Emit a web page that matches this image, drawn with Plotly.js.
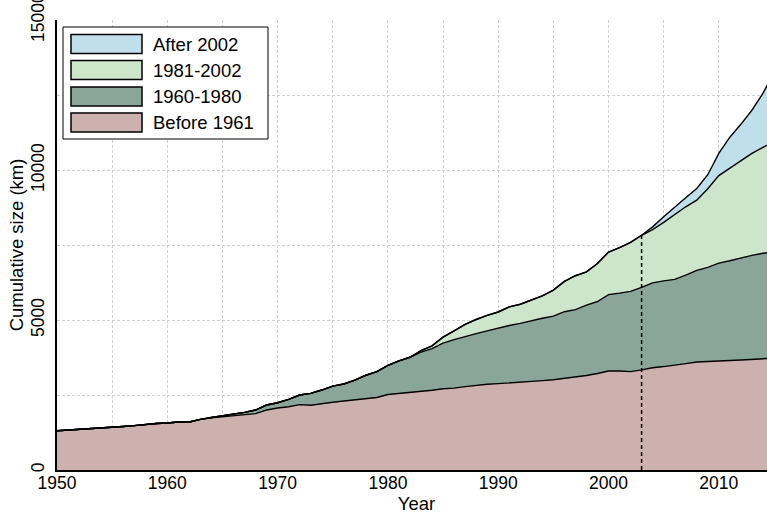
<!DOCTYPE html>
<html>
<head>
<meta charset="utf-8">
<script src="https://cdn.plot.ly/plotly-3.0.1.min.js"></script>
<style>
  html, body { margin: 0; padding: 0; overflow: hidden; background: #fff; }
  #chart { width: 776px; height: 516px; }
</style>
</head>
<body>
<div id="chart"></div>
<script>
// ---- Data ----
const years = [1950,1951,1952,1953,1954,1955,1956,1957,1958,1959,
               1960,1961,1962,1963,1964,1965,1966,1967,1968,1969,
               1970,1971,1972,1973,1974,1975,1976,1977,1978,1979,
               1980,1981,1982,1983,1984,1985,1986,1987,1988,1989,
               1990,1991,1992,1993,1994,1995,1996,1997,1998,1999,
               2000,2001,2002,2003,2004,2005,2006,2007,2008,2009,
               2010,2011,2012,2013,2014,2015];

// cumulative totals (stack tops), km
const cumBefore1961 = [1310,1330,1350,1370,1390,1430,1450,1480,1520,1550,
                       1570,1600,1600,1690,1740,1770,1800,1830,1880,2000,
                       2070,2110,2180,2160,2220,2260,2300,2340,2380,2420,
                       2520,2550,2580,2620,2660,2710,2730,2780,2830,2860,
                       2880,2900,2930,2950,2980,3010,3050,3100,3150,3220,
                       3300,3300,3280,3340,3410,3450,3490,3550,3600,3610,
                       3630,3650,3670,3690,3710,3730];
const cumTo1980 = [1310,1330,1350,1370,1390,1430,1450,1480,1520,1550,
                   1570,1600,1600,1690,1750,1800,1856,1922,2000,2167,
                   2244,2356,2500,2556,2667,2800,2870,3000,3160,3280,
                   3490,3640,3760,3930,4050,4230,4350,4460,4550,4640,
                   4740,4820,4890,4980,5060,5130,5280,5350,5500,5620,
                   5850,5900,5960,6090,6240,6310,6360,6500,6660,6760,
                   6900,6980,7080,7160,7230,7280];
const cumTo2002 = [1310,1330,1350,1370,1390,1430,1450,1480,1520,1550,
                   1570,1600,1600,1690,1750,1800,1856,1922,2000,2167,
                   2244,2356,2500,2556,2667,2800,2870,3000,3160,3280,
                   3490,3640,3760,3980,4140,4430,4640,4860,5020,5160,
                   5270,5440,5530,5660,5810,6000,6290,6480,6610,6890,
                   7270,7420,7590,7830,8020,8260,8530,8780,9000,9380,
                   9820,10060,10310,10560,10760,10950];
const cumTotal = [1310,1330,1350,1370,1390,1430,1450,1480,1520,1550,
                  1570,1600,1600,1690,1750,1800,1856,1922,2000,2167,
                  2244,2356,2500,2556,2667,2800,2870,3000,3160,3280,
                  3490,3640,3760,3980,4140,4430,4640,4860,5020,5160,
                  5270,5440,5530,5660,5810,6000,6290,6480,6610,6890,
                  7270,7420,7590,7830,8110,8450,8780,9080,9390,9850,
                  10560,11100,11530,12000,12560,13250];

const seriesNames = ["Before 1961", "1960-1980", "1981-2002", "After 2002"];
const seriesColors = ["#ccb1ae", "#8aa69a", "#cce5cb", "#bfe0ea"];
const splitYear = 2003;

const xTickVals = [1950,1960,1970,1980,1990,2000,2010];
const yTickVals = [0,5000,10000,15000];
const yTickText = ["0","5000","10000","15000"];

// ---- Build traces ----
const stacks = [cumBefore1961, cumTo1980, cumTo2002, cumTotal];
const traces = stacks.map((ys, i) => ({
  type: "scatter", mode: "lines",
  x: years, y: ys, name: seriesNames[i],
  fill: i === 0 ? "tozeroy" : "tonexty",
  fillcolor: seriesColors[i],
  line: { color: "#000", width: 1.4 },
  hoverinfo: "skip", showlegend: false
}));
const splitIdx = years.indexOf(splitYear);
traces.push({
  type: "scatter", mode: "lines",
  x: [splitYear, splitYear], y: [0, cumTotal[splitIdx]],
  line: { color: "#000", width: 1.5, dash: "4px,3px" },
  hoverinfo: "skip", showlegend: false
});

// ---- Manual legend (pixel -> paper helpers) ----
const L = 57, R = 776, T = 20, B = 470;
const px = v => (v - L) / (R - L);
const py = v => (B - v) / (B - T);
const FONT = "Liberation Sans, Arial, Helvetica, sans-serif";

const shapes = [{
  type: "rect", xref: "paper", yref: "paper",
  x0: px(63), x1: px(268), y0: py(139), y1: py(27),
  line: { color: "#000", width: 1 }, fillcolor: "#fff", layer: "above"
}];
const annotations = [];
const legendOrder = [3, 2, 1, 0];
const rowCenters = [44, 70, 96.5, 122.5];
legendOrder.forEach((si, r) => {
  const c = rowCenters[r];
  shapes.push({
    type: "rect", xref: "paper", yref: "paper",
    x0: px(71), x1: px(142), y0: py(c + 9.5), y1: py(c - 9.5),
    line: { color: "#000", width: 1.5 }, fillcolor: seriesColors[si], layer: "above"
  });
  annotations.push({
    xref: "paper", yref: "paper", x: px(151), y: py(c),
    xanchor: "left", yanchor: "middle", showarrow: false,
    text: seriesNames[si], font: { family: FONT, size: 18.5, color: "#000" }
  });
});

const gridStyle = { gridcolor: "#cfcfcf", gridwidth: 1, griddash: "3px,2px" };

const layout = {
  width: 776, height: 516,
  margin: { l: L, r: 776 - R, t: T, b: 516 - B, pad: 0 },
  paper_bgcolor: "#fff", plot_bgcolor: "#fff",
  font: { family: FONT, size: 17.5, color: "#000" },
  showlegend: false,
  xaxis: {
    range: [1950, 1950 + (R - L) / 11.03],
    tickvals: xTickVals, ticks: "", ticklabelstandoff: -4,
    tickfont: { family: FONT, size: 17.5, color: "#000" },
    showline: true, linecolor: "#000", linewidth: 2,
    showgrid: true, ...gridStyle, zeroline: false,
    minor: { dtick: 5, tick0: 1950, showgrid: true, ...gridStyle },
    title: { text: "Year", font: { family: FONT, size: 18.5, color: "#000" }, standoff: 0 }
  },
  yaxis: {
    range: [0, 15010],
    tickvals: yTickVals, ticktext: yTickText, tickangle: -90, ticks: "",
    ticklabelstandoff: 4, ticklabeloverflow: "allow",
    tickfont: { family: FONT, size: 17.5, color: "#000" },
    showline: true, linecolor: "#000", linewidth: 2,
    showgrid: true, ...gridStyle, zeroline: false,
    minor: { dtick: 2500, tick0: 0, showgrid: true, ...gridStyle },
    title: { text: "Cumulative size (km)", font: { family: FONT, size: 18.5, color: "#000" }, standoff: 0 }
  },
  shapes: shapes,
  annotations: annotations
};

Plotly.newPlot("chart", traces, layout, { staticPlot: true, displayModeBar: false });
</script>
</body>
</html>
